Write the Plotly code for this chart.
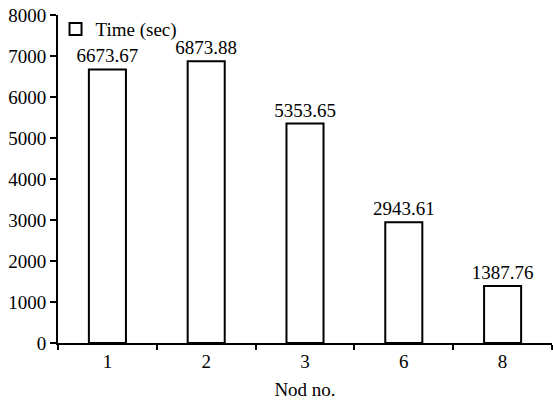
import plotly.graph_objects as go

# Runtime per node count
nodes = ["1", "2", "3", "6", "8"]
times = [6673.67, 6873.88, 5353.65, 2943.61, 1387.76]
value_labels = ["6673.67", "6873.88", "5353.65", "2943.61", "1387.76"]
y_ticks = [0, 1000, 2000, 3000, 4000, 5000, 6000, 7000, 8000]

SERIF = "'Liberation Serif', 'Times New Roman', Times, 'DejaVu Serif', serif"
fs = 19

fig = go.Figure()
fig.add_trace(go.Bar(
    x=nodes,
    y=times,
    name="Time (sec)",
    text=value_labels,
    textposition="outside",
    constraintext="none",
    textfont=dict(family=SERIF, size=fs, color="black"),
    marker=dict(color="white", line=dict(color="black", width=2)),
    width=0.375,
    cliponaxis=False,
))

fig.update_layout(
    width=553,
    height=400,
    margin=dict(l=58, r=1, t=15, b=57),
    plot_bgcolor="white",
    paper_bgcolor="white",
    font=dict(family=SERIF, size=fs, color="black"),
    showlegend=True,
    legend=dict(
        x=-0.005, y=1.015, xanchor="left", yanchor="top",
        bgcolor="rgba(0,0,0,0)",
        font=dict(family=SERIF, size=fs, color="black"),
        itemwidth=30,
    ),
    xaxis=dict(
        type="category",
        range=[-0.5, 4.5],
        showline=True, linecolor="black", linewidth=2,
        ticks="outside", tickson="boundaries", ticklen=5, tickwidth=2, tickcolor="black",
        tickfont=dict(family=SERIF, size=fs, color="black"),
        showgrid=False,
        title=dict(text="Nod no.", font=dict(family=SERIF, size=fs), standoff=13),
    ),
    yaxis=dict(
        range=[0, 8000],
        tickvals=y_ticks,
        showline=True, linecolor="black", linewidth=2,
        ticks="outside", ticklen=6, tickwidth=2, tickcolor="black",
        tickfont=dict(family=SERIF, size=fs, color="black"),
        showgrid=False, zeroline=False,
    ),
)

fig.write_html("out.html")
